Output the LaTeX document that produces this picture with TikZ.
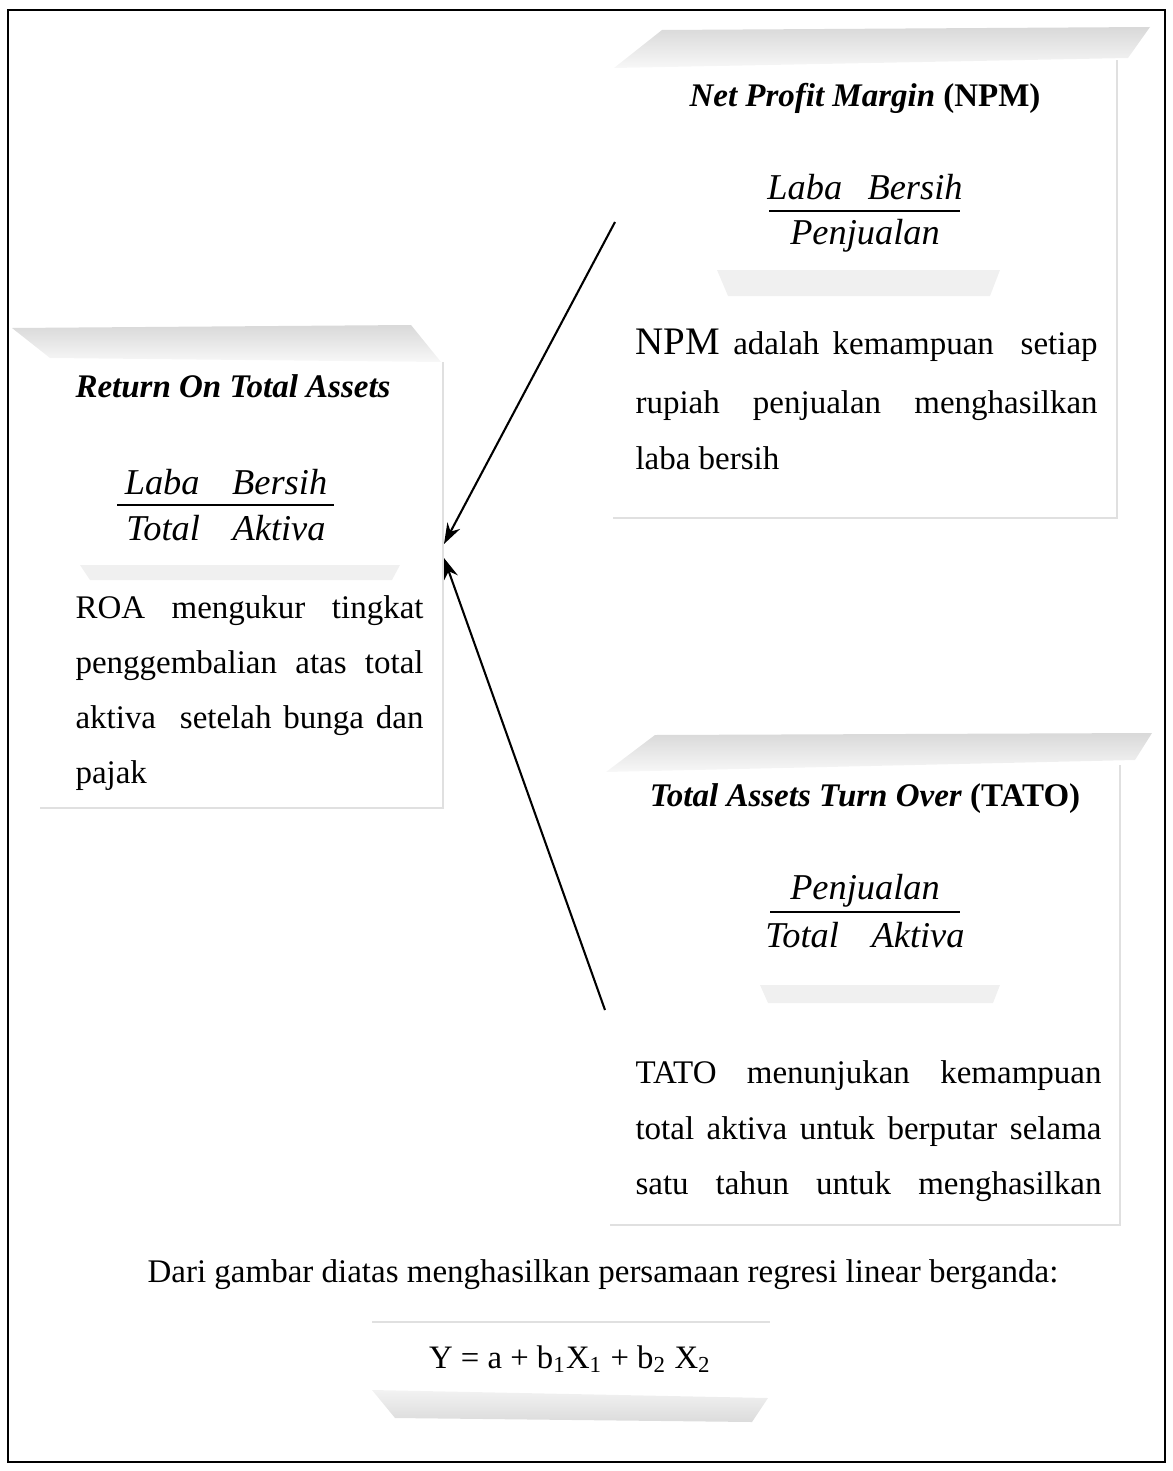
\documentclass[tikz,border=0pt]{standalone}
\usepackage{fontspec}
\setmainfont{Liberation Serif}
\usetikzlibrary{arrows.meta}

\newcommand{\jline}[2]{\makebox[#1][s]{#2}}

\tikzset{
    band/.style={top color=black!15, bottom color=black!3, draw=none},
    midband/.style={fill=black!6, draw=none},
    faint/.style={draw=black!12, line width=0.6pt},
    boxtitle/.style={font=\fontsize{12.7}{15}\selectfont\bfseries, anchor=base, inner sep=0pt},
    fracpart/.style={font=\fontsize{14}{17}\selectfont\itshape, anchor=base, inner sep=0pt},
    bodyline/.style={font=\fontsize{12.7}{15}\selectfont, anchor=base west, inner sep=0pt},
    fracrule/.style={line width=0.8pt},
    arr/.style={line width=0.8pt, -{Stealth[length=8pt,width=5.5pt]}}
}

\begin{document}
\begin{tikzpicture}[x=0.385pt,y=-0.385pt]
    \useasboundingbox (0,0) rectangle (1172,1471);
    %% Frame
    \draw[line width=0.9pt] (8,10) rectangle (1165,1462);

    %% Net Profit Margin
    \shade[band] (614,68) -- (662,30) -- (1150,27) -- (1128,58) -- cycle;
    \draw[faint] (1117,60) -- (1117,518) -- (613,518);
    \fill[midband] (717,270) -- (1000,270) -- (990,296) -- (728,296) -- cycle;
    \node[boxtitle] (npmtitle) at (865,107)
        {\textit{Net Profit Margin} (NPM)};
    \node[fracpart] (npmnum) at (865,199) {Laba\hspace{0.7em}Bersih};
    \node[fracpart] (npmden) at (865,245) {Penjualan};
    \draw[fracrule] (769,211) -- (960,211);
    \node[bodyline] (npm1) at (635,354)
        {\jline{177.9pt}{{\fontsize{15}{17}\selectfont NPM} adalah kemampuan \ setiap}};
    \node[bodyline] (npm2) at (635,413)
        {\jline{177.9pt}{rupiah penjualan menghasilkan}};
    \node[bodyline] (npm3) at (635,469) {laba bersih};

    %% Return On Total Assets
    \shade[band] (12,328) -- (411,325) -- (441,362) -- (50,358) -- cycle;
    \draw[faint] (443,362) -- (443,808) -- (40,808);
    \fill[midband] (80,565) -- (400,565) -- (392,580) -- (90,580) -- cycle;
    \node[boxtitle, anchor=base west] (roatitle) at (75,397)
        {\textit{Return On Total Assets}};
    \node[fracpart] (roanum) at (226,494) {Laba\hspace{0.9em}Bersih};
    \node[fracpart] (roaden) at (226,540) {Total\hspace{0.9em}Aktiva};
    \draw[fracrule] (117,505) -- (334,505);
    \node[bodyline] (roa1) at (75,618)
        {\jline{134pt}{ROA mengukur tingkat}};
    \node[bodyline] (roa2) at (75,673)
        {\jline{134pt}{penggembalian atas total}};
    \node[bodyline] (roa3) at (75,728)
        {\jline{134pt}{aktiva \ setelah bunga dan}};
    \node[bodyline] (roa4) at (75,783) {pajak};

    %% Total Assets Turn Over
    \shade[band] (606,772) -- (655,735) -- (1152,733) -- (1135,760) -- cycle;
    \draw[faint] (1120,765) -- (1120,1225) -- (610,1225);
    \fill[midband] (760,985) -- (1000,985) -- (993,1003) -- (768,1003) -- cycle;
    \node[boxtitle] (tatotitle) at (865,806)
        {\textit{Total Assets Turn Over} (TATO)};
    \node[fracpart] (tatonum) at (865,899) {Penjualan};
    \node[fracpart] (tatoden) at (865,947) {Total\hspace{0.9em}Aktiva};
    \draw[fracrule] (770,912) -- (960,912);
    \node[bodyline] (tato1) at (635,1083)
        {\jline{179.4pt}{TATO menunjukan kemampuan}};
    \node[bodyline] (tato2) at (635,1139)
        {\jline{179.4pt}{total aktiva untuk berputar selama}};
    \node[bodyline] (tato3) at (635,1194)
        {\jline{179.4pt}{satu tahun untuk menghasilkan}};

    %% Arrows
    \coordinate (npmout) at (615,222);
    \coordinate (tatoout) at (605,1010);
    \coordinate (roain1) at (444,544);
    \coordinate (roain2) at (444,558);
    \draw[arr] (npmout) -- (roain1);
    \draw[arr] (tatoout) -- (roain2);

    %% Regression
    \node[font=\fontsize{12.7}{15}\selectfont, anchor=base] (caption) at (603,1282)
        {Dari gambar diatas menghasilkan persamaan regresi linear berganda:};
    \draw[faint] (372,1322) -- (770,1322);
    \shade[band, top color=black!5, bottom color=black!14]
        (372,1390) -- (768,1398) -- (752,1422) -- (395,1418) -- cycle;
    \node[font=\fontsize{12.6}{15}\selectfont, anchor=base] (equation) at (570,1368)
        {Y = a + b\textsubscript{1}X\textsubscript{1} + b\textsubscript{2} X\textsubscript{2}};
\end{tikzpicture}
\end{document}
